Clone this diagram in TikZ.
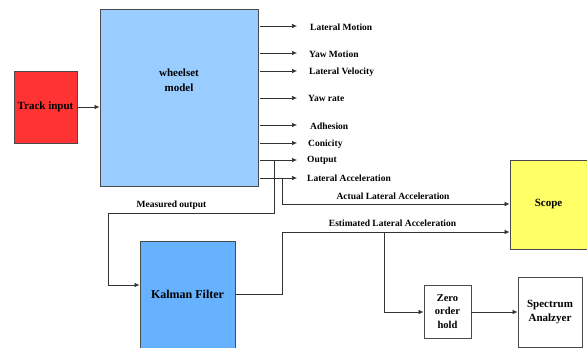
\documentclass[tikz,border=0pt]{standalone}
\usepackage{fontspec}
\setmainfont{Liberation Serif}
\usetikzlibrary{arrows.meta}
\definecolor{trackred}{HTML}{FF3333}
\definecolor{wheelblue}{HTML}{99CCFF}
\definecolor{kalmanblue}{HTML}{66B2FF}
\definecolor{scopeyellow}{HTML}{FFFF66}
\definecolor{edgegray}{HTML}{4A4A4A}
\begin{document}
\begin{tikzpicture}[x=1pt,y=-1pt,
  font=\bfseries\fontsize{9.5}{11}\selectfont,
  blockbox/.style={draw=edgegray, line width=0.8pt, rectangle, inner sep=0pt, align=center,
    font=\bfseries\fontsize{11}{13.5}\selectfont},
  conn/.style={draw=black!80, line width=0.7pt},
  arr/.style={conn, -{Latex[length=5pt,width=4.5pt]}},
  outlabel/.style={anchor=west, inner sep=0pt}
]
\useasboundingbox (0,0) rectangle (587,348);

% blocks
\node[blockbox, fill=trackred, minimum width=63pt, minimum height=72pt] (track) at (45.5,107) {Track input};
\node[blockbox, fill=wheelblue, minimum width=158pt, minimum height=177pt] (wheel) at (179,97.5) {};
\node[align=center, inner sep=0pt, font=\bfseries\fontsize{11}{14.5}\selectfont] (wlabel) at (179,80) {wheelset\\model};
\node[blockbox, fill=kalmanblue, minimum width=95pt, minimum height=107pt, font=\bfseries\fontsize{12}{14}\selectfont] (kalman) at (187.5,294.5) {Kalman Filter};
\node[blockbox, fill=scopeyellow, minimum width=77pt, minimum height=89pt] (scope) at (548.5,204.5) {Scope};
\node[blockbox, fill=white, minimum width=47pt, minimum height=53pt, font=\bfseries\fontsize{10.5}{13.5}\selectfont] (zoh) at (447.5,311.5) {Zero\\order\\hold};
\node[blockbox, fill=white, minimum width=64pt, minimum height=70pt] (spec) at (550,312) {Spectrum\\Analzyer};

% input
\draw[arr] (track.east) -- (wheel.west |- track.east);

% output labels
\node[outlabel] (o1) at (310,27) {Lateral Motion};
\node[outlabel] (o2) at (309,54) {Yaw Motion};
\node[outlabel] (o3) at (309,72) {Lateral Velocity};
\node[outlabel] (o4) at (308,98) {Yaw rate};
\node[outlabel] (o5) at (310,126) {Adhesion};
\node[outlabel] (o6) at (308,144) {Conicity};
\node[outlabel] (o7) at (307,160) {Output};
\node[outlabel] (o8) at (307,178) {Lateral Acceleration};

\foreach \n/\y in {o1/26,o2/53,o3/71,o4/98,o5/125,o6/143,o7/160,o8/178}{
  \draw[arr] ([xshift=2pt]wheel.east |- 0,\y) -- (297,\y);
}

% measured output feedback into the filter
\draw[arr] (274,160) -- (274,213) -- (108,213) -- (108,285) -- (kalman.west |- 0,285);
\node[inner sep=0pt] (meas) at (171.5,205) {Measured output};

% actual lateral acceleration to the scope
\draw[arr] (282,178) -- (282,204) -- (scope.west |- 0,204);
\node[inner sep=0pt] (actual) at (393,196) {Actual Lateral Acceleration};

% estimate to the scope and the zero order hold
\draw[arr] (kalman.east |- 0,294) -- (282,294) -- (282,232) -- (scope.west |- 0,232);
\node[inner sep=0pt] (est) at (392.5,223) {Estimated Lateral Acceleration};
\coordinate (branch) at (384,232);
\draw[arr] (branch) -- (384,312) -- (zoh.west |- 0,312);
\draw[arr] (zoh.east |- 0,312) -- (spec.west |- 0,312);
\end{tikzpicture}
\end{document}
